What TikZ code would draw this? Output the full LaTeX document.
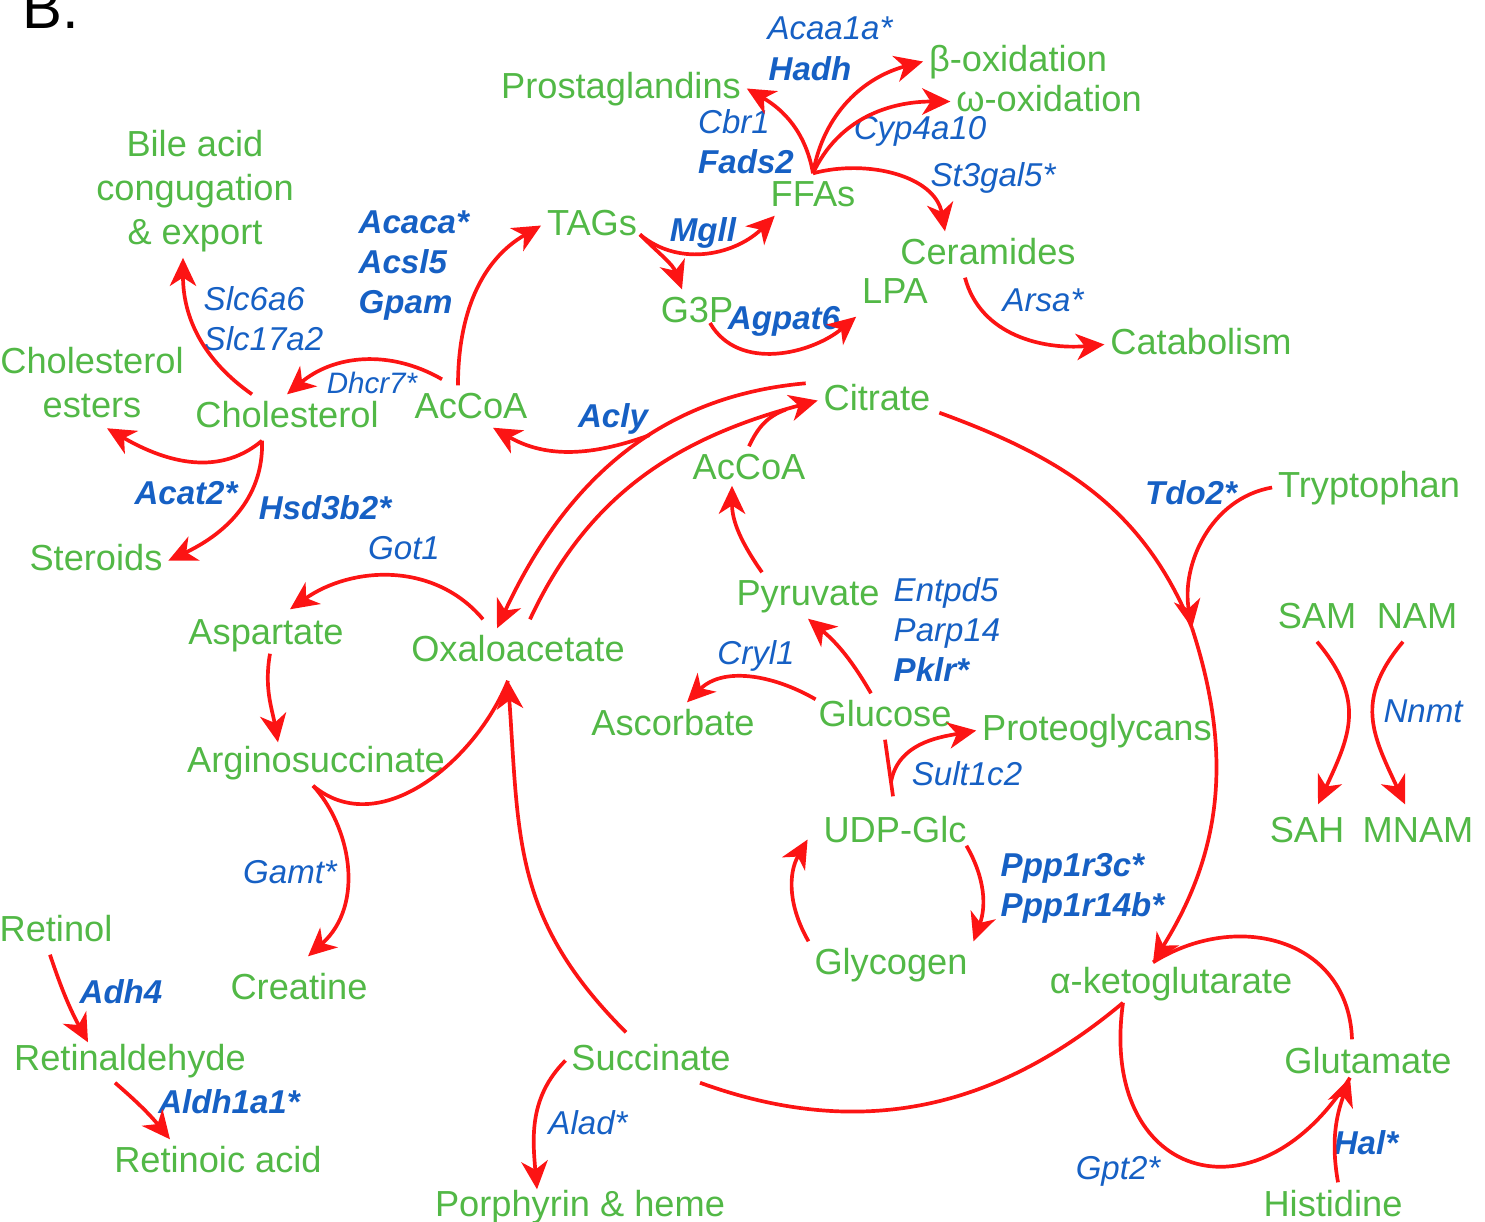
\documentclass[tikz,border=0pt]{standalone}
\usepackage{fontspec}
\setmainfont{Liberation Sans}
\usepackage{xcolor}
\usepackage{tikz}
\usetikzlibrary{arrows.meta,calc}
\definecolor{metgreen}{RGB}{82,184,70}
\definecolor{enzblue}{RGB}{22,96,196}
\definecolor{rxred}{RGB}{252,20,20}

\begin{document}
\begin{tikzpicture}[x=0.01cm,y=0.01cm,
 met/.style={text=metgreen,font=\fontsize{10.3}{12.5}\selectfont,inner sep=1.5pt,text height=7.6pt,text depth=2.2pt,anchor=base},
 metml/.style={text=metgreen,font=\fontsize{10.3}{12.5}\selectfont,inner sep=1.5pt,align=center},
 enz/.style={text=enzblue,font=\fontsize{9.4}{11.4}\selectfont\itshape,inner sep=1pt,anchor=base},
 benz/.style={enz,font=\fontsize{9.4}{11.4}\selectfont\bfseries\itshape},
 enzml/.style={text=enzblue,font=\fontsize{9.4}{11.4}\selectfont\itshape,inner sep=0pt,align=left,anchor=north west},
 benzml/.style={enzml,font=\fontsize{9.4}{11.4}\selectfont\bfseries\itshape},
 rx/.style={draw=rxred,line width=1.05pt},
 arr/.style={rx,-{Stealth[length=8pt,width=7.5pt,inset=2.4pt]}}]
\useasboundingbox (0,0) rectangle (1485,-1221);
\node[anchor=base west,font=\fontsize{17}{20}\selectfont,inner sep=0pt] (lbl) at (22,-28) {B.};

\node[met] (prost) at (621,-98) {Prostaglandins};
\node[met] (boxi) at (1018,-71) {β-oxidation};
\node[met] (woxi) at (1049,-111) {ω-oxidation};
\node[met] (ffa) at (813,-206) {FFAs};
\node[met] (tag) at (592,-235) {TAGs};
\node[met] (cer) at (988,-264) {Ceramides};
\node[met] (gtp) at (697,-322) {G3P};
\node[met] (lpa) at (895,-303) {LPA};
\node[met] (cata) at (1201,-354) {Catabolism};
\node[metml] (bile) at (195,-191) {Bile acid\\congugation\\\& export};
\node[metml] (cest) at (92,-383) {Cholesterol\\esters};
\node[met] (chol) at (287,-427) {Cholesterol};
\node[met] (acoaL) at (471,-418) {AcCoA};
\node[met] (cit) at (877,-410) {Citrate};
\node[met] (acoaM) at (749,-479) {AcCoA};
\node[met] (trp) at (1369,-497) {Tryptophan};
\node[met] (ster) at (96,-570) {Steroids};
\node[met] (pyr) at (808,-605) {Pyruvate};
\node[met] (asp) at (266,-644) {Aspartate};
\node[met] (oaa) at (518,-661) {Oxaloacetate};
\node[met] (sam) at (1317,-628) {SAM};
\node[met] (nam) at (1417,-628) {NAM};
\node[met] (asc) at (673,-735) {Ascorbate};
\node[met] (glc) at (885,-726) {Glucose};
\node[met] (prot) at (1097,-740) {Proteoglycans};
\node[met] (args) at (316,-772) {Arginosuccinate};
\node[met] (udp) at (895,-842) {UDP-Glc};
\node[met] (sah) at (1307,-842) {SAH};
\node[met] (mnam) at (1418,-842) {MNAM};
\node[met] (ret) at (56,-941) {Retinol};
\node[met] (glyc) at (891,-974) {Glycogen};
\node[met] (akg) at (1171,-993) {α-ketoglutarate};
\node[met] (crea) at (299,-999) {Creatine};
\node[met] (rald) at (130,-1070) {Retinaldehyde};
\node[met] (succ) at (651,-1070) {Succinate};
\node[met] (glu) at (1368,-1073) {Glutamate};
\node[met] (rac) at (218,-1172) {Retinoic acid};
\node[met] (por) at (580,-1216) {Porphyrin \& heme};
\node[met] (his) at (1333,-1216) {Histidine};

\node[enz] (acaa) at (830,-39) {Acaa1a*};
\node[benz] (hadh) at (810,-80) {Hadh};
\node[enz] (cbr) at (734,-133) {Cbr1};
\node[enz] (cyp) at (920,-139) {Cyp4a10};
\node[benz] (fads) at (746,-173) {Fads2};
\node[enz] (st3) at (993,-186) {St3gal5*};
\node[benzml] (acac) at (358,-210) {Acaca*\\Acsl5\\Gpam};
\node[benz] (mgll) at (703,-241) {Mgll};
\node[enzml] (slc) at (203,-286) {Slc6a6\\Slc17a2};
\node[enz] (arsa) at (1043,-311) {Arsa*};
\node[benz] (agpat) at (784,-329) {Agpat6};
\node[enz,font=\fontsize{8.4}{10}\selectfont\itshape] (dhcr) at (372,-393) {Dhcr7*};
\node[benz] (acly) at (613,-427) {Acly};
\node[benz] (acat) at (186,-504) {Acat2*};
\node[benz] (hsd) at (325,-519) {Hsd3b2*};
\node[benz] (tdo) at (1191,-504) {Tdo2*};
\node[enz] (got) at (404,-559) {Got1};
\node[enzml] (ent) at (893,-577) {Entpd5\\Parp14\\\textbf{Pklr*}};
\node[enz] (cryl) at (756,-664) {Cryl1};
\node[enz] (nnmt) at (1423,-722) {Nnmt};
\node[enz] (sult) at (967,-785) {Sult1c2};
\node[benzml] (ppp) at (1000,-853) {Ppp1r3c*\\Ppp1r14b*};
\node[enz] (gamt) at (290,-883) {Gamt*};
\node[benz] (adh) at (121,-1003) {Adh4};
\node[benz] (aldh) at (229,-1113) {Aldh1a1*};
\node[enz] (alad) at (588,-1134) {Alad*};
\node[enz] (gpt) at (1118,-1179) {Gpt2*};
\node[benz] (hal) at (1366,-1154) {Hal*};

\coordinate (ffabr) at (ffa.north);
\draw[arr] (ffabr) to[out=100,in=-30] (prost.east);
\draw[arr] (ffabr) to[out=80,in=195] (boxi.west);
\draw[arr] (ffabr) to[out=65,in=180] (woxi.west);
\draw[arr] (ffabr) to[out=15,in=100] ($(cer.north)+(-43,0)$);
\draw[arr] ($(acoaL.north)+(-13,0)$) to[out=90,in=210] (tag.west);
\coordinate (tagbr) at ($(tag.east)+(-3,-9)$);
\draw[arr] (tagbr) to[out=-40,in=-135] ($(ffa.south west)+(10,4)$);
\draw[arr] (tagbr) to[out=-45,in=110] ($(gtp.north)+(-15,0)$);
\draw[arr] ($(gtp.base)+(13,-1)$) to[out=-60,in=-140] (lpa.south west);
\draw[arr] ($(cer.south)+(-23,0)$) to[out=-75,in=185] (cata.west);
\draw[arr] ($(chol.north)+(-35,0)$) to[out=145,in=-90] ($(bile.south)+(-12,0)$);
\draw[arr] ($(acoaL.north)+(-29,6)$) to[out=150,in=40] (chol.north);
\coordinate (cholbr) at ($(chol.south)+(-25,0)$);
\draw[arr] (cholbr) to[out=-140,in=-30] ($(cest.south)+(15,-4)$);
\draw[arr] (cholbr) to[out=-88,in=25] (ster.east);
\draw[arr] ($(cit.north west)+(-12,-6)$) to[out=185,in=65] coordinate[pos=.4] (aclybr) ($(oaa.north)+(-21,0)$);
\draw[arr] (aclybr) to[out=200,in=-30] ($(acoaL.south)+(22,4)$);
\draw[arr] ($(oaa.north)+(12,9)$) to[out=65,in=195] coordinate[pos=.92] (citj) (cit.west);
\draw[rx] (acoaM.north) to[out=65,in=200] (citj);
\draw[arr] ($(pyr.north)+(-46,0)$) to[out=125,in=-90] ($(acoaM.south)+(-17,7)$);
\draw[arr] ($(glc.north)+(-14,0)$) to[bend right=10] (pyr.south);
\draw[arr] ($(glc.north west)+(3,-6)$) to[out=150,in=45] ($(asc.north)+(14,0)$);
\draw[rx] (glc.south) to coordinate[pos=.75] (glcbr) ($(udp.north)+(-2,13)$);
\draw[arr] (glcbr) to[out=80,in=190] (prot.west);
\draw[arr] ($(udp.south east)+(-6,10)$) to[out=-60,in=70] (glyc.north east);
\draw[arr] (glyc.north west) to[out=120,in=-120] ($(udp.west)+(-10,-7)$);
\coordinate (trpj) at (1192,-628);
\coordinate (akgj) at ($(akg.north)+(-18,-2)$);
\draw[rx] ($(cit.south east)+(3,11)$) to[out=-20,in=112] (trpj);
\draw[arr] (trpj) to[out=-72,in=58] (akgj);
\draw[arr] (trp.west) to[out=190,in=100] (trpj);
\coordinate (akgbr) at ($(akg.south)+(-48,4)$);
\draw[rx] (akgbr) to[out=-140,in=-20] ($(succ.south)+(49,1)$);
\coordinate (oaaj) at ($(oaa.south)+(-10,-6)$);
\draw[arr] ($(succ.north)+(-25,5)$) to[out=135,in=-86,looseness=1.1] (oaaj);
\coordinate (argbr) at ($(args.south)+(-3,0)$);
\draw[rx] (argbr) to[out=-40,in=-112] (oaaj);
\draw[arr] (argbr) .. controls +(37,-40) and +(58,52) .. ($(crea.north)+(9,10)$);
\draw[arr] ($(oaa.north)+(-35,9)$) to[out=130,in=35] ($(asp.north)+(24,2)$);
\draw[arr] ($(asp.south)+(4,4)$) to[out=-100,in=100] ($(args.north)+(-38,-3)$);
\draw[arr] ($(ret.south)+(-6,0)$) to[bend right=5] ($(rald.north)+(-42,-5)$);
\draw[arr] ($(rald.south)+(-15,1)$) to[bend left=5] ($(rac.north)+(-48,0)$);
\draw[arr] (succ.west) to[out=-135,in=95] ($(por.north)+(-43,-6)$);
\coordinate (gluj) at ($(glu.south)+(-18,9)$);
\draw[rx] (akgbr) to[out=-98,in=-122,looseness=1.9] (gluj);
\draw[rx] ($(glu.north)+(-16,1)$) to[out=92,in=32,looseness=1.2] (akgj);
\draw[arr] ($(his.north)+(5,1)$) to[out=100,in=-110] (gluj);
\draw[arr] (sam.south) to[out=-50,in=65,looseness=1.2] ($(sah.north)+(11,5)$);
\draw[arr] ($(nam.south)+(-14,0)$) to[out=-130,in=115,looseness=1.2] ($(mnam.north)+(-13,5)$);
\end{tikzpicture}
\end{document}
